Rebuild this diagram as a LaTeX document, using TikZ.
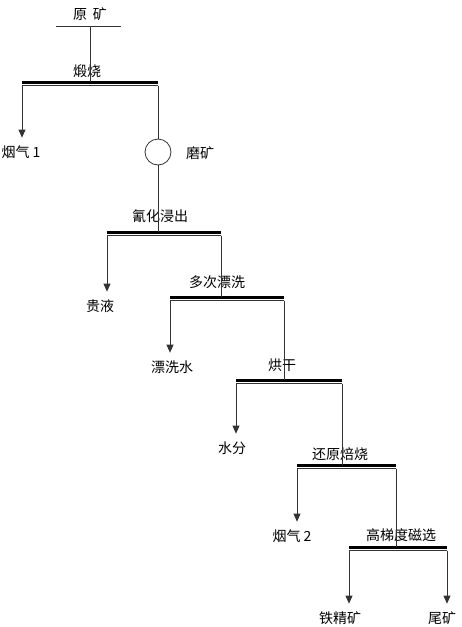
\documentclass[tikz,border=0pt]{standalone}
\usepackage{fontspec}
\setmainfont{Noto Sans CJK SC}
\usetikzlibrary{arrows.meta}

\begin{document}
\begin{tikzpicture}[x=1pt, y=-1pt, font=\fontsize{14}{16}\selectfont,
    line width=0.8pt, draw=black!80,
    bar/.style={line width=3pt, draw=black},
    outflow/.style={-{Triangle[width=7pt,length=8pt]}},
    prod/.style={inner xsep=1pt, inner ysep=7.5pt},
    stage/.style={inner sep=1pt}]
  \useasboundingbox (0,0) rectangle (462,627);
  % feed: raw ore on a short line
  \node[stage] (ore) at (90,14) {原\hspace{6pt}矿};
  \coordinate (feedL) at (56,26);
  \coordinate (feedR) at (121,26);
  \coordinate (feedC) at (90,26);
  \draw (feedL) -- (feedR);
  % the six separating steps: thick bar with a thin line under it
  \foreach \i/\xl/\xr/\y in {1/22/158/82, 2/107/221/232, 3/170/284/297,
                             4/236/342/380, 5/297/396/465, 6/349/447/547} {
    \coordinate (B\i) at (\xl,\y);
    \coordinate (L\i) at (\xl,\y+3.5);
    \coordinate (R\i) at (\xr,\y+3.5);
    \draw[bar] (\xl,\y) -- (\xr,\y);
    \draw (L\i) -- (R\i);
  }
  \node[stage] (s1) at (87,71)   {煅烧};
  \node[stage] (s2) at (160,216) {氰化浸出};
  \node[stage] (s3) at (217,282) {多次漂洗};
  \node[stage] (s4) at (282,365) {烘干};
  \node[stage] (s5) at (340,454) {还原焙烧};
  \node[stage] (s6) at (401,535) {高梯度磁选};
  % grinding between step 1 and 2
  \node[circle, draw, minimum size=26pt, inner sep=0pt] (mill) at (158,152) {};
  \node[stage] (millL) at (200,153) {磨矿};
  % products leaving each step
  \node[prod] (gas1)  at (21,152)  {烟气 1};
  \node[prod] (liq)   at (100,306) {贵液};
  \node[prod] (wash)  at (172,367) {漂洗水};
  \node[prod] (water) at (232,448) {水分};
  \node[prod] (gas2)  at (292,536) {烟气 2};
  \node[prod] (conc)  at (340,618) {铁精矿};
  \node[prod] (tail)  at (442,618) {尾矿};
  % main stream
  \draw (feedC) -- (feedC |- B1);
  \draw (R1) -- (mill.north);
  \draw (mill.south) -- (mill.south |- B2);
  \draw (R2) -- (R2 |- B3);
  \draw (R3) -- (R3 |- B4);
  \draw (R4) -- (R4 |- B5);
  \draw (R5) -- (R5 |- B6);
  % side streams
  \draw[outflow] (L1) -- (L1 |- gas1.north);
  \draw[outflow] (L2) -- (L2 |- liq.north);
  \draw[outflow] (L3) -- (L3 |- wash.north);
  \draw[outflow] (L4) -- (L4 |- water.north);
  \draw[outflow] (L5) -- (L5 |- gas2.north);
  \draw[outflow] (L6) -- (L6 |- conc.north);
  \draw[outflow] (R6) -- (R6 |- tail.north);
\end{tikzpicture}
\end{document}
